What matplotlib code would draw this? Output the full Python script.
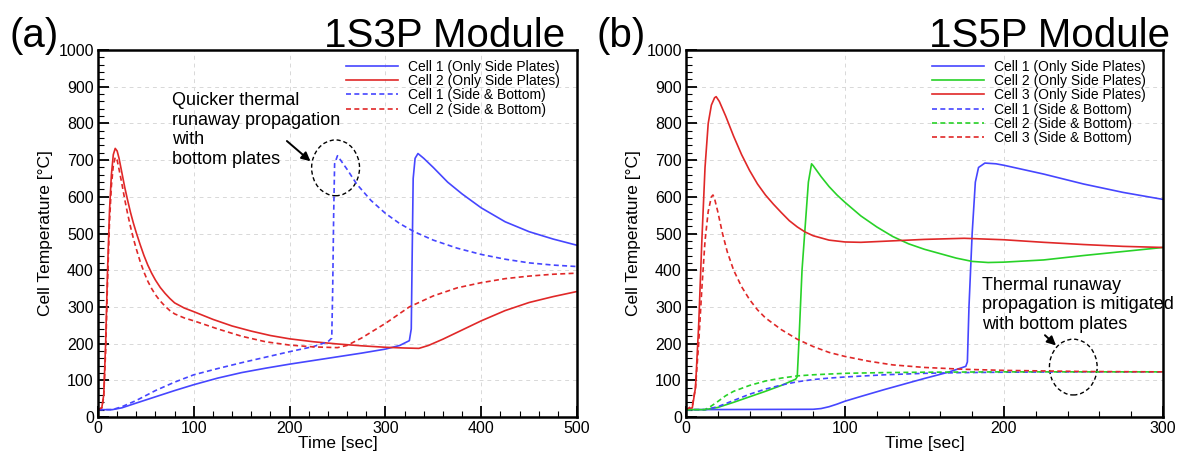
import numpy as np
import matplotlib
matplotlib.use("Agg")
import matplotlib.pyplot as plt
from matplotlib.patches import Ellipse
from matplotlib.ticker import MultipleLocator

plt.rcParams['font.family'] = ['Liberation Sans', 'DejaVu Sans']

BLUE = '#4646ff'
RED = '#e02828'
GREEN = '#28d228'

# ---------------- Panel (a): 1S3P ----------------
a_c2_side_t = [0, 4, 6, 8, 10, 12, 14, 16, 18, 20, 22, 25, 28, 31, 34, 37, 40, 44, 48, 52, 56, 60, 65, 70, 75, 80, 90, 100,
               120, 140, 160, 180, 200, 225, 250, 275, 300, 320, 335, 345, 360, 380, 400, 425, 450, 475, 500]
a_c2_side_T = [20, 25, 60, 200, 400, 560, 660, 715, 732, 725, 705, 665, 625, 590, 557, 528, 502, 470, 440, 414, 392, 373, 353, 337, 323, 311, 297, 287,
               266, 248, 234, 222, 213, 205, 199, 194, 190, 188, 187, 195, 212, 237, 262, 290, 312, 328, 342]

a_c2_bot_t = [0, 4, 6, 8, 10, 12, 14, 16, 18, 20, 22, 25, 28, 31, 34, 37, 40, 44, 48, 52, 56, 60, 65, 70, 75, 80, 90, 100,
              125, 150, 175, 200, 225, 250, 260, 275, 300, 325, 350, 375, 400, 425, 450, 475, 500]
a_c2_bot_T = [20, 25, 55, 180, 370, 530, 630, 685, 708, 700, 675, 635, 592, 553, 518, 486, 458, 424, 395, 370, 350, 333, 316, 302, 290, 281, 270, 262,
              240, 220, 205, 196, 191, 189, 195, 215, 255, 300, 330, 352, 366, 377, 384, 389, 392]

a_c1_side_t = [0, 15, 25, 40, 60, 80, 100, 125, 150, 175, 200, 225, 250, 275, 300, 315, 325, 327, 328, 329, 331, 334,
               340, 350, 365, 380, 400, 425, 450, 475, 500]
a_c1_side_T = [20, 20, 25, 38, 55, 72, 88, 106, 121, 133, 144, 154, 164, 174, 185, 195, 208, 240, 450, 650, 705, 718,
               705, 680, 640, 608, 570, 532, 505, 485, 468]

a_c1_bot_t = [0, 15, 25, 40, 60, 80, 100, 125, 150, 175, 200, 225, 240, 244, 245, 246, 247, 250, 260, 270, 285, 300,
              315, 330, 350, 375, 400, 425, 450, 475, 500]
a_c1_bot_T = [20, 20, 28, 45, 72, 95, 115, 132, 148, 163, 178, 192, 205, 215, 350, 550, 690, 712, 675, 635, 590, 555,
              527, 505, 482, 460, 443, 430, 420, 414, 410]

# ---------------- Panel (b): 1S5P ----------------
b_c1_side_t = [0, 80, 85, 90, 95, 100, 110, 125, 140, 150, 165, 176, 177, 178, 180, 182, 184, 188, 195, 200, 225, 250, 275, 300]
b_c1_side_T = [20, 21, 23, 28, 35, 43, 56, 75, 93, 105, 122, 138, 150, 300, 500, 640, 680, 692, 690, 686, 662, 635, 612, 593]

b_c2_side_t = [0, 12, 20, 30, 40, 50, 60, 69, 70, 71, 73, 75, 77, 79, 80, 85, 90, 95, 100, 110, 120, 130, 140,
               150, 160, 170, 180, 190, 200, 225, 250, 275, 300]
b_c2_side_T = [20, 20, 26, 40, 55, 70, 86, 103, 110, 200, 400, 520, 640, 690, 685, 655, 628, 605, 585, 548, 518, 492, 472,
               457, 445, 433, 424, 421, 422, 428, 440, 451, 462]

b_c3_side_t = [0, 4, 6, 8, 10, 12, 14, 16, 18, 19, 21, 25, 30, 35, 40, 45, 50, 55, 60, 65, 70, 75, 80, 90, 100,
               110, 125, 150, 175, 200, 225, 250, 275, 300]
b_c3_side_T = [20, 25, 80, 250, 480, 680, 800, 850, 870, 873, 860, 820, 765, 715, 672, 635, 605, 580, 557, 535, 518, 504, 494, 482, 477,
               476, 479, 484, 487, 483, 476, 470, 465, 462]

b_c1_bot_t = [0, 12, 20, 30, 40, 50, 60, 70, 80, 90, 100, 125, 150, 175, 200, 250, 300]
b_c1_bot_T = [20, 20, 28, 45, 62, 76, 87, 96, 102, 106, 109, 115, 119, 121, 122, 123, 123]

b_c2_bot_t = [0, 12, 16, 20, 25, 30, 40, 50, 60, 70, 80, 90, 100, 125, 150, 200, 300]
b_c2_bot_T = [20, 20, 30, 42, 58, 70, 86, 98, 106, 112, 115, 117, 119, 121, 122, 123, 123]

b_c3_bot_t = [0, 4, 6, 8, 10, 12, 14, 16, 17, 18, 20, 23, 26, 30, 35, 40, 45, 50, 60, 70, 80, 90, 100,
              115, 130, 150, 175, 200, 250, 300]
b_c3_bot_T = [20, 30, 80, 200, 350, 480, 560, 600, 605, 595, 560, 500, 450, 400, 355, 320, 292, 270, 238, 212, 192, 176, 165,
              152, 142, 135, 130, 127, 124, 123]

fig = plt.figure(figsize=(11.79, 4.53), dpi=100)
ax1 = fig.add_axes([0.0831, 0.0795, 0.4063, 0.810])
ax2 = fig.add_axes([0.5818, 0.0795, 0.4046, 0.810])

DASH = (0, (3, 2))
LW = 1.2

ax1.plot(a_c1_side_t, a_c1_side_T, color=BLUE, lw=LW, label='Cell 1 (Only Side Plates)')
ax1.plot(a_c2_side_t, a_c2_side_T, color=RED, lw=LW, label='Cell 2 (Only Side Plates)')
ax1.plot(a_c1_bot_t, a_c1_bot_T, color=BLUE, lw=LW, ls=DASH, label='Cell 1 (Side & Bottom)')
ax1.plot(a_c2_bot_t, a_c2_bot_T, color=RED, lw=LW, ls=DASH, label='Cell 2 (Side & Bottom)')

ax2.plot(b_c1_side_t, b_c1_side_T, color=BLUE, lw=LW, label='Cell 1 (Only Side Plates)')
ax2.plot(b_c2_side_t, b_c2_side_T, color=GREEN, lw=LW, label='Cell 2 (Only Side Plates)')
ax2.plot(b_c3_side_t, b_c3_side_T, color=RED, lw=LW, label='Cell 3 (Only Side Plates)')
ax2.plot(b_c1_bot_t, b_c1_bot_T, color=BLUE, lw=LW, ls=DASH, label='Cell 1 (Side & Bottom)')
ax2.plot(b_c2_bot_t, b_c2_bot_T, color=GREEN, lw=LW, ls=DASH, label='Cell 2 (Side & Bottom)')
ax2.plot(b_c3_bot_t, b_c3_bot_T, color=RED, lw=LW, ls=DASH, label='Cell 3 (Side & Bottom)')

for ax, xmax, in [(ax1, 500), (ax2, 300)]:
    ax.set_xlim(0, xmax)
    ax.set_ylim(0, 1000)
    ax.xaxis.set_major_locator(MultipleLocator(100))
    ax.xaxis.set_minor_locator(MultipleLocator(20))
    ax.yaxis.set_major_locator(MultipleLocator(100))
    ax.yaxis.set_minor_locator(MultipleLocator(20))
    ax.tick_params(which='major', direction='in', length=8, width=1.3, labelsize=11.5, pad=3)
    ax.tick_params(which='minor', direction='in', length=4, width=0.8)
    ax.tick_params(top=False, right=False)
    ax.grid(True, which='major', ls=(0, (4, 4)), color='#d8d8d8', lw=0.7)
    for s in ax.spines.values():
        s.set_linewidth(1.8)
    ax.set_xlabel('Time [sec]', fontsize=12.5, labelpad=0)
    ax.set_ylabel('Cell Temperature [°C]', fontsize=12.5, labelpad=4)
    ax.legend(loc='upper right', bbox_to_anchor=(0.985, 1.0), frameon=False, fontsize=10,
              handlelength=3.8, labelspacing=0.02, borderaxespad=0.3, handletextpad=0.7)

# Annotations panel (a)
ax1.text(77, 885, 'Quicker thermal\nrunaway propagation\nwith\nbottom plates',
         fontsize=13, va='top', ha='left', linespacing=1.2)
ax1.annotate('', xy=(224, 692), xytext=(195, 757),
             arrowprops=dict(arrowstyle='-|>', color='black', lw=1.4, mutation_scale=13))
ax1.add_patch(Ellipse((248, 679), 50, 152, fill=False, ls=(0, (3, 2)), lw=1.0, color='black'))

# Annotations panel (b)
ax2.text(186, 382, 'Thermal runaway\npropagation is mitigated\nwith bottom plates',
         fontsize=13, va='top', ha='left', linespacing=1.2)
ax2.annotate('', xy=(234, 190), xytext=(224.5, 228),
             arrowprops=dict(arrowstyle='-|>', color='black', lw=1.4, mutation_scale=13))
ax2.add_patch(Ellipse((243.6, 136), 30, 152, fill=False, ls=(0, (3, 2)), lw=1.0, color='black'))

# Panel titles
fig.text(0.008, 0.897, '(a)', fontsize=29, ha='left', va='baseline')
fig.text(0.479, 0.897, '1S3P Module', fontsize=29, ha='right', va='baseline')
fig.text(0.506, 0.897, '(b)', fontsize=29, ha='left', va='baseline')
fig.text(0.992, 0.897, '1S5P Module', fontsize=29, ha='right', va='baseline')

fig.savefig('out.png', dpi=100)
